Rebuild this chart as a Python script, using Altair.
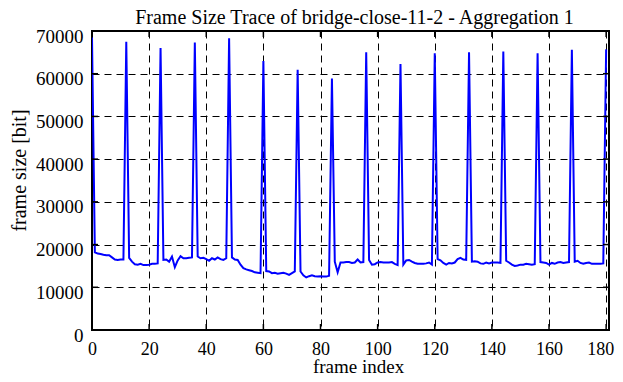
import altair as alt
import pandas as pd

# I-frame (peak) sizes at frames 0, 12, 24, ..., 180
peak_sizes = [68500, 67500, 66000, 67300, 68300, 63000, 60900, 58900,
              65000, 62300, 64800, 65000, 65200, 64800, 65600, 65700]

# sizes of the 11 frames between consecutive peaks
between_sizes = [
    [18200, 17900, 17800, 17600, 17500, 17500, 17000, 16500, 16400, 16500, 16500],
    [16900, 16000, 15400, 15300, 15500, 15200, 15200, 15300, 15500, 15500, 15600],
    [16400, 16500, 16000, 17200, 14700, 16300, 17300, 16800, 16800, 16900, 17000],
    [17200, 16800, 16900, 16600, 16200, 16800, 16500, 17000, 16600, 16400, 16800],
    [17000, 16500, 16400, 15300, 14500, 14200, 14000, 13800, 13500, 13400, 13300],
    [13800, 13700, 13300, 13400, 13200, 13300, 13400, 13200, 12900, 13300, 13700],
    [13700, 12800, 12300, 12600, 12800, 12600, 12500, 12600, 12500, 12500, 12700],
    [16000, 13500, 15800, 15800, 15900, 15900, 15700, 15800, 16500, 15800, 15900],
    [16400, 15300, 15400, 15800, 15900, 15800, 15800, 15800, 15900, 15500, 15200],
    [15300, 16300, 16400, 16000, 15700, 15500, 15500, 15500, 15600, 15800, 15300],
    [16600, 16300, 15700, 15300, 15700, 15600, 15800, 16600, 16900, 16500, 16400],
    [16000, 16100, 16000, 15600, 15500, 15800, 15600, 15800, 15800, 15800, 15700],
    [16200, 15800, 15300, 15000, 15100, 15300, 15300, 15500, 15400, 15300, 15400],
    [15900, 15800, 15700, 15300, 15700, 15500, 15800, 15900, 15700, 15800, 15900],
    [16000, 16200, 15700, 15500, 15700, 15800, 15500, 15500, 15500, 15500, 15600],
]

x_ticks = [0, 20, 40, 60, 80, 100, 120, 140, 160, 180]
y_ticks = [0, 10000, 20000, 30000, 40000, 50000, 60000, 70000]

sizes = []
for i, seg in enumerate(between_sizes):
    sizes.append(peak_sizes[i])
    sizes.extend(seg)
sizes.append(peak_sizes[-1])

df = pd.DataFrame({"frame": list(range(len(sizes))), "size": sizes})
xt = pd.DataFrame({"v": x_ticks})
yt = pd.DataFrame({"v": y_ticks})

W, H = 517, 299
FONT = "Liberation Serif"

xscale = alt.Scale(domain=[0, 181], nice=False, zero=False)
yscale = alt.Scale(domain=[0, 70000], nice=False)

grid_kw = dict(grid=True, gridColor="black", gridDash=[7, 5], gridWidth=1,
               gridOpacity=1, tickSize=0, domain=False,
               labelFont=FONT, titleFont=FONT,
               labelColor="black", titleColor="black", titleFontWeight="normal")

line = alt.Chart(df).mark_line(color="#0000ff", strokeWidth=2, clip=True).encode(
    x=alt.X("frame:Q", scale=xscale, title="frame index",
            axis=alt.Axis(values=x_ticks, labelPadding=10, labelFlush=False,
                          labelFontSize=18,
                          labelOffset={"condition": {"test": "datum.value == 180", "value": -6},
                                       "value": 0},
                          titleFontSize=19, titleBaseline="alphabetic",
                          titleX=266, titleY=42, titleAlign="center", **grid_kw)),
    y=alt.Y("size:Q", scale=yscale, title="frame size [bit]",
            axis=alt.Axis(values=y_ticks, labelPadding=9, labelOffset=5, format="d",
                          labelFontSize=19,
                          titleFontSize=20, titleBaseline="alphabetic",
                          titleX=-67, titleY=139, titleAlign="center", **grid_kw)),
)

xt_bottom = alt.Chart(xt).mark_rule(color="black", strokeWidth=1.5).encode(
    x=alt.X("v:Q", scale=xscale), y=alt.value(H), y2=alt.value(H - 6))
xt_top = alt.Chart(xt).mark_rule(color="black", strokeWidth=1.5).encode(
    x=alt.X("v:Q", scale=xscale), y=alt.value(0), y2=alt.value(6))
yt_left = alt.Chart(yt).mark_rule(color="black", strokeWidth=1.5).encode(
    y=alt.Y("v:Q", scale=yscale), x=alt.value(0), x2=alt.value(6))
yt_right = alt.Chart(yt).mark_rule(color="black", strokeWidth=1.5).encode(
    y=alt.Y("v:Q", scale=yscale), x=alt.value(W), x2=alt.value(W - 6))

chart = alt.layer(line, xt_bottom, xt_top, yt_left, yt_right).properties(
    width=W, height=H,
    title=alt.TitleParams("Frame Size Trace of bridge-close-11-2 - Aggregation 1",
                          font=FONT, fontSize=20, fontWeight="normal", color="black",
                          offset=0, anchor="middle", baseline="alphabetic", dx=4, dy=17),
    autosize=alt.AutoSizeParams(type="none"),
    padding={"left": 84, "top": 23, "right": 6, "bottom": 44},
    background="white",
).configure_view(stroke="black", strokeWidth=2)

chart.save("out.html", embed_options={"renderer": "svg", "actions": False})
